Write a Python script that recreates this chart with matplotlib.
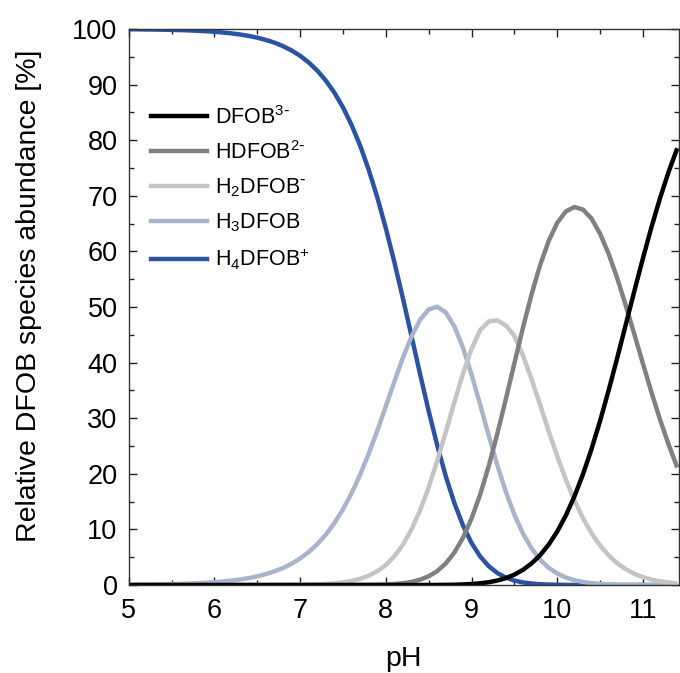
import matplotlib
matplotlib.use("Agg")
import matplotlib.pyplot as plt
from matplotlib.lines import Line2D

plt.rcParams['font.family'] = ['Liberation Sans', 'DejaVu Sans']
plt.rcParams['mathtext.default'] = 'regular'

ph = [5.0, 5.1, 5.2, 5.3, 5.4, 5.5, 5.6, 5.7, 5.8, 5.9,
      6.0, 6.1, 6.2, 6.3, 6.4, 6.5, 6.6, 6.7, 6.8, 6.9,
      7.0, 7.1, 7.2, 7.3, 7.4, 7.5, 7.6, 7.7, 7.8, 7.9,
      8.0, 8.1, 8.2, 8.3, 8.4, 8.5, 8.6, 8.7, 8.8, 8.9,
      9.0, 9.1, 9.2, 9.3, 9.4, 9.5, 9.6, 9.7, 9.8, 9.9,
      10.0, 10.1, 10.2, 10.3, 10.4, 10.5, 10.6, 10.7, 10.8, 10.9,
      11.0, 11.1, 11.2, 11.3, 11.4]

h4dfob = [99.95, 99.94, 99.92, 99.90, 99.87, 99.84, 99.80, 99.75, 99.68, 99.60,
          99.50, 99.37, 99.21, 99.01, 98.76, 98.44, 98.04, 97.55, 96.92, 96.14,
          95.18, 93.98, 92.52, 90.72, 88.54, 85.90, 82.74, 79.02, 74.68, 69.72,
          64.14, 58.03, 51.50, 44.71, 37.89, 31.27, 25.08, 19.51, 14.70, 10.71,
          7.55, 5.14, 3.39, 2.16, 1.33, 0.80, 0.46, 0.26, 0.14, 0.08,
          0.04, 0.02, 0.01, 0, 0, 0, 0, 0, 0, 0,
          0, 0, 0, 0, 0]

h3dfob = [0.05, 0.06, 0.08, 0.10, 0.13, 0.16, 0.20, 0.25, 0.32, 0.40,
          0.50, 0.63, 0.79, 0.99, 1.24, 1.56, 1.96, 2.45, 3.06, 3.83,
          4.77, 5.93, 7.35, 9.07, 11.15, 13.61, 16.51, 19.85, 23.62, 27.75,
          32.15, 36.61, 40.90, 44.71, 47.71, 49.57, 50.04, 49.01, 46.49, 42.66,
          37.84, 32.45, 26.90, 21.58, 16.76, 12.62, 9.24, 6.58, 4.57, 3.10,
          2.06, 1.34, 0.86, 0.54, 0.33, 0.20, 0.12, 0.07, 0.04, 0.02,
          0.01, 0.01, 0, 0, 0]

h2dfob = [0, 0, 0, 0, 0, 0, 0, 0, 0, 0,
          0, 0, 0, 0, 0, 0.01, 0.01, 0.01, 0.02, 0.03,
          0.05, 0.08, 0.13, 0.20, 0.31, 0.48, 0.74, 1.12, 1.67, 2.47,
          3.61, 5.17, 7.27, 10.01, 13.45, 17.59, 22.35, 27.56, 32.91, 38.02,
          42.46, 45.84, 47.40, 47.60, 46.70, 44.79, 41.27, 37.01, 32.36, 27.65,
          23.12, 18.94, 15.22, 12.01, 9.31, 7.09, 5.31, 3.90, 2.83, 2.01,
          1.41, 0.98, 0.66, 0.45, 0.30]

hdfob = [0, 0, 0, 0, 0, 0, 0, 0, 0, 0,
         0, 0, 0, 0, 0, 0, 0, 0, 0, 0,
         0, 0, 0, 0, 0, 0, 0.01, 0.02, 0.03, 0.06,
         0.10, 0.18, 0.32, 0.56, 0.95, 1.57, 2.51, 3.89, 5.85, 8.51,
         11.97, 16.26, 21.37, 27.16, 33.44, 39.92, 46.30, 52.27, 57.55, 61.90,
         65.15, 67.19, 67.98, 67.52, 65.88, 63.17, 59.53, 55.15, 50.24, 45.05,
         39.77, 34.60, 29.70, 25.20, 21.14]

dfob = [0, 0, 0, 0, 0, 0, 0, 0, 0, 0,
        0, 0, 0, 0, 0, 0, 0, 0, 0, 0,
        0, 0, 0, 0, 0, 0, 0, 0, 0, 0,
        0, 0, 0, 0, 0, 0.01, 0.01, 0.03, 0.05, 0.10,
        0.18, 0.30, 0.50, 0.80, 1.24, 1.87, 2.73, 3.88, 5.37, 7.27,
        9.64, 12.51, 15.94, 19.93, 24.48, 29.55, 35.05, 40.88, 46.89, 52.93,
        58.82, 64.43, 69.63, 74.36, 78.56]

labels = [r'DFOB$^{3\text{-}}$', r'HDFOB$^{2\text{-}}$', r'H$_2$DFOB$^{\text{-}}$',
          r'H$_3$DFOB', r'H$_4$DFOB$^{+}$']
colors = ['#000000', '#808080', '#c4c4c4', '#a8b4cc', '#2a53a3']
series = [dfob, hdfob, h2dfob, h3dfob, h4dfob]

fig = plt.figure(figsize=(6.8, 6.73), dpi=100)
ax = fig.add_axes([128.7 / 680, 88 / 673, 550.3 / 680, 556 / 673])

for ys, c in zip(series[::-1], colors[::-1]):
    ax.plot(ph, ys, color=c, lw=3.2, solid_capstyle='butt', solid_joinstyle='round')

ax.set_xlim(5, 11.42)
ax.set_ylim(0, 100)
ax.set_xticks([5, 6, 7, 8, 9, 10, 11])
ax.set_xticks([5.5, 6.5, 7.5, 8.5, 9.5, 10.5], minor=True)
ax.set_yticks(range(0, 101, 10))
ax.set_yticks(range(5, 100, 10), minor=True)
ax.tick_params(which='both', direction='in', top=True, right=True,
               labelsize=19.5, color='#222222', width=1)
ax.tick_params(which='major', length=6)
ax.tick_params(axis='y', which='major', pad=8)
ax.tick_params(axis='x', which='major', pad=9)
ax.tick_params(which='minor', length=3.5)
for s in ax.spines.values():
    s.set_linewidth(1)
    s.set_color('#333333')

ax.set_xlabel('pH', fontsize=20.5)
ax.set_ylabel('Relative DFOB species abundance [%]', fontsize=20.5)
ax.xaxis.set_label_coords(0.5, -0.11)
ax.yaxis.set_label_coords(-0.158, 0.52)

handles = [Line2D([], [], color=c, lw=3.2) for c in colors]
ax.legend(handles, labels, loc='upper left', bbox_to_anchor=(0.04, 0.862),
          frameon=False, fontsize=15.5, handlelength=2.6, handletextpad=0.4,
          labelspacing=0.58, borderpad=0, borderaxespad=0)

fig.savefig('out.png', dpi=100)
